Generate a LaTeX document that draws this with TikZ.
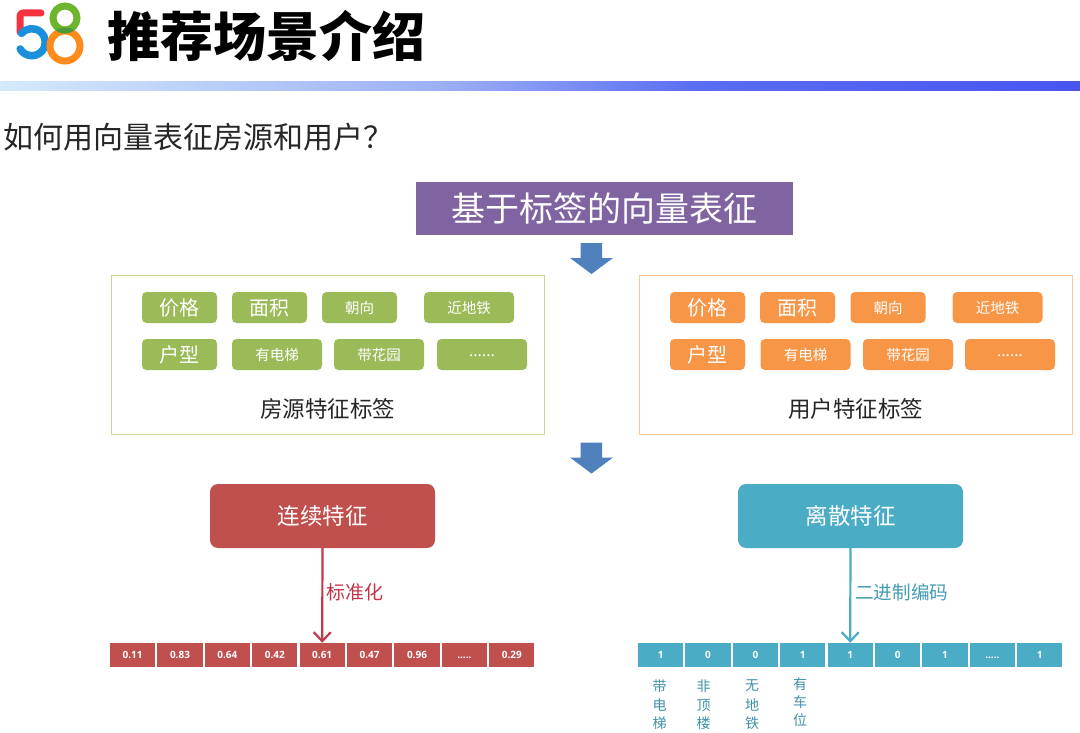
\documentclass[tikz,border=0pt]{standalone}
\usepackage{fontspec}
\usetikzlibrary{arrows.meta}
\setmainfont{Noto Sans CJK SC}
\newfontfamily\latinb{Open Sans}[BoldFont={Open Sans Bold}]
\definecolor{cpurple}{HTML}{8064A2}
\definecolor{cgreen}{HTML}{9BBB59}
\definecolor{corange}{HTML}{F79646}
\definecolor{cred}{HTML}{C0504D}
\definecolor{cteal}{HTML}{4BACC6}
\definecolor{cblue}{HTML}{4F81BD}
\definecolor{clabelred}{HTML}{C4344A}
\definecolor{logored}{HTML}{F5333F}
\definecolor{logoblue}{HTML}{1C8FDC}
\definecolor{logogreen}{HTML}{6CB52D}
\definecolor{logodark}{HTML}{4C9A3A}
\definecolor{logoorange}{HTML}{FF8C1A}
\definecolor{bandA}{HTML}{D4EAFB}
\definecolor{bandB}{HTML}{9DB0F5}
\definecolor{bandC}{HTML}{5A6CF0}
\definecolor{bandD}{HTML}{4A55F0}
\newcommand{\fs}[1]{\fontsize{#1}{#1}\selectfont}
\tikzset{
  x=1pt,y=-1pt,
  boxed/.style={minimum width=#1,minimum height=31pt,rounded corners=4.5pt,inner sep=0pt,text=white,outer sep=0pt},
  gtag/.style={boxed=#1,fill=cgreen},
  otag/.style={boxed=#1,fill=corange},
  bigtxt/.style={font=\fs{20}},
  smalltxt/.style={font=\fs{14.5}},
  dotstxt/.style={font=\latinb\fs{16},text height=4pt,text depth=0pt},
  frameg/.style={draw=cgreen!60,line width=1.3pt,minimum width=433pt,minimum height=159pt,inner sep=0pt},
  frameo/.style={draw=corange!55,line width=1.3pt,minimum width=433pt,minimum height=159pt,inner sep=0pt},
  blockarrow/.style={fill=cblue},
  bigbox/.style={minimum width=225pt,minimum height=64pt,rounded corners=8pt,text=white,font=\fs{22.5},inner sep=0pt},
  cell/.style={minimum width=45.2pt,minimum height=24pt,inner sep=0pt,text=white,font=\latinb\bfseries\fs{10},text height=7pt,text depth=0pt},
  rcell/.style={cell,fill=cred},
  tcell/.style={cell,fill=cteal},
  downline/.style={line width=2.2pt,-{Straight Barb[length=9pt,width=17pt,line width=2.2pt]}},
  vlabel/.style={text=cteal!85!black,font=\fs{14},align=center,inner sep=0pt},
}
\begin{document}
\begin{tikzpicture}
\useasboundingbox (0,0) rectangle (1080,733);
\fill[white] (0,0) rectangle (1080,733);
% logo
\draw[line width=7pt,logored,line cap=round,line join=round,rounded corners=3pt] (41,13) -- (20,13) -- (20,32);
\draw[line width=7.5pt,logoblue,line cap=round] (21.5,33.5) arc[start angle=140,end angle=-150,x radius=13.5pt,y radius=13.5pt];
\draw[line width=7pt,logoorange] (65,46) circle (15);
\draw[line width=7pt,logogreen] (65,18) circle (12);
\begin{scope}
  \clip (65,46) circle (18.5);
  \draw[line width=7pt,logodark] (65,18) circle (12);
\end{scope}
% title
\node[font=\bfseries\fs{53},text=black,inner sep=0pt] (title) at (266,36) {推荐场景介绍};
% band
\shade[left color=bandA,right color=bandB] (0,82) rectangle (440,90.5);
\shade[left color=bandB,right color=bandC] (440,82) rectangle (700,90.5);
\shade[left color=bandC,right color=bandD] (700,82) rectangle (1080,90.5);
% question
\node[font=\fs{30},text=black!85,anchor=west,inner sep=0pt] (question) at (3,137) {如何用向量表征房源和用户？};
% header
\node[fill=cpurple,minimum width=377pt,minimum height=53pt,text=white,font=\fs{34},inner sep=0pt] (header) at (604.5,208.5) {基于标签的向量表征};
\fill[blockarrow] (580.5,243) -- (602,243) -- (602,258) -- (613,258) -- (591.5,274) -- (570,258) -- (580.5,258) -- cycle;
\fill[blockarrow] (580.5,442.5) -- (602,442.5) -- (602,457.5) -- (613,457.5) -- (591.5,473.5) -- (570,457.5) -- (580.5,457.5) -- cycle;
% frames
\node[frameg] (frameL) at (328,355) {};
\node[frameo] (frameR) at (856,355) {};
% green tags
\node[gtag=75pt,bigtxt] (g1) at (179.5,307.5) {价格};
\node[gtag=75pt,bigtxt] (g2) at (269.5,307.5) {面积};
\node[gtag=75pt,smalltxt] (g3) at (359.5,307.5) {朝向};
\node[gtag=90pt,smalltxt] (g4) at (469,307.5) {近地铁};
\node[gtag=75pt,bigtxt] (g5) at (179.5,354.5) {户型};
\node[gtag=90pt,smalltxt] (g6) at (277,354.5) {有电梯};
\node[gtag=90pt,smalltxt] (g7) at (379,354.5) {带花园};
\node[gtag=90pt,dotstxt] (g8) at (482,354.5) {......};
% orange tags
\node[otag=75pt,bigtxt] (o1) at (707.5,307.5) {价格};
\node[otag=75pt,bigtxt] (o2) at (797.5,307.5) {面积};
\node[otag=75pt,smalltxt] (o3) at (888,307.5) {朝向};
\node[otag=90pt,smalltxt] (o4) at (997.5,307.5) {近地铁};
\node[otag=75pt,bigtxt] (o5) at (707.5,354.5) {户型};
\node[otag=90pt,smalltxt] (o6) at (805.5,354.5) {有电梯};
\node[otag=90pt,smalltxt] (o7) at (908,354.5) {带花园};
\node[otag=90pt,dotstxt] (o8) at (1010,354.5) {......};
\node[font=\fs{22.5},text=black!85,inner sep=0pt] (labL) at (327.5,409) {房源特征标签};
\node[font=\fs{22.5},text=black!85,inner sep=0pt] (labR) at (855.5,409) {用户特征标签};
% big boxes
\node[bigbox,fill=cred] (cont) at (322.5,516) {连续特征};
\node[bigbox,fill=cteal] (disc) at (850.5,516) {离散特征};
% cells
\node[rcell] (r1) at (132.6,655) {0.11};
\node[rcell] (r2) at (180,655) {0.83};
\node[rcell] (r3) at (227.4,655) {0.64};
\node[rcell] (r4) at (274.8,655) {0.42};
\node[rcell] (r5) at (322.2,655) {0.61};
\node[rcell] (r6) at (369.6,655) {0.47};
\node[rcell] (r7) at (417,655) {0.96};
\node[rcell] (r8) at (464.4,655) {.....};
\node[rcell] (r9) at (511.8,655) {0.29};
\node[tcell] (t1) at (660.6,655) {1};
\node[tcell] (t2) at (708,655) {0};
\node[tcell] (t3) at (755.4,655) {0};
\node[tcell] (t4) at (802.8,655) {1};
\node[tcell] (t5) at (850.2,655) {1};
\node[tcell] (t6) at (897.6,655) {0};
\node[tcell] (t7) at (945,655) {1};
\node[tcell] (t8) at (992.4,655) {.....};
\node[tcell] (t9) at (1039.8,655) {1};
% connectors
\draw[downline,draw=clabelred!85!cred] (cont.south) -- (r5.north);
\draw[downline,draw=cteal] (disc.south) -- (t5.north);
\node[font=\fs{19},text=clabelred,anchor=west,inner sep=0pt] (std) at (326,592) {标准化};
\node[font=\fs{18.6},text=cteal!90!black,anchor=west,inner sep=0pt] (bin) at (855,592) {二进制编码};
% vertical labels
\node[vlabel] (v1a) at (659.5,686) {带};
\node[vlabel] (v1b) at (659.5,705) {电};
\node[vlabel] (v1c) at (659.5,723) {梯};
\node[vlabel] (v2a) at (703.5,686) {非};
\node[vlabel] (v2b) at (703.5,705) {顶};
\node[vlabel] (v2c) at (703.5,723) {楼};
\node[vlabel] (v3a) at (752,686) {无};
\node[vlabel] (v3b) at (752,705) {地};
\node[vlabel] (v3c) at (752,723) {铁};
\node[vlabel] (v4a) at (800,684) {有};
\node[vlabel] (v4b) at (800,702) {车};
\node[vlabel] (v4c) at (800,720) {位};
\end{tikzpicture}
\end{document}
